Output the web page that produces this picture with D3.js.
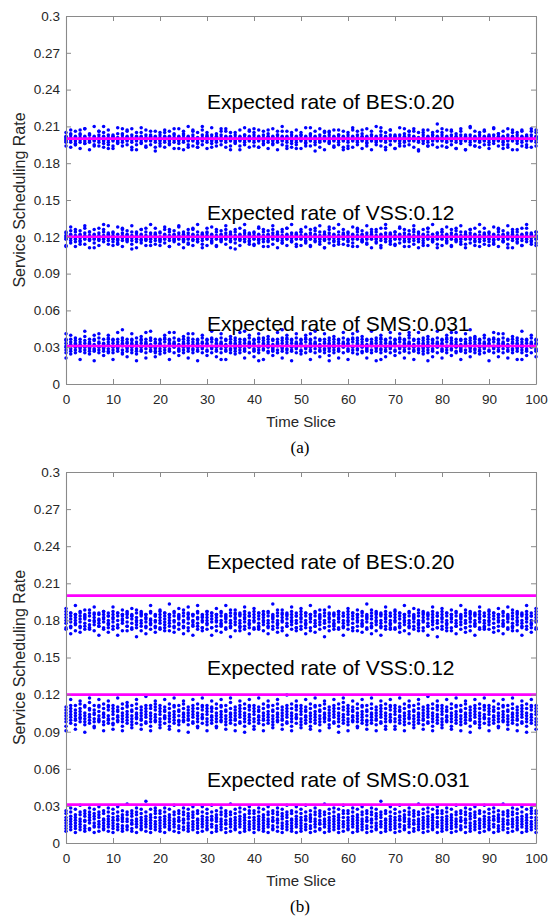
<!DOCTYPE html>
<html>
<head>
<meta charset="utf-8">
<script src="https://cdn.jsdelivr.net/npm/d3@7/dist/d3.min.js"></script>
<style>
  body { margin: 0; background: #fff; }
  svg { display: block; }
</style>
</head>
<body>
<svg id="chart" width="554" height="923"></svg>
<script>
// ---- data ------------------------------------------------------------
const timeSlices = d3.range(0, 101);
const xTicks = [0, 10, 20, 30, 40, 50, 60, 70, 80, 90, 100];
const xTickLabels = ["0", "10", "20", "30", "40", "50", "60", "70", "80", "90", "100"];
const yTicks = [0, 0.03, 0.06, 0.09, 0.12, 0.15, 0.18, 0.21, 0.24, 0.27, 0.3];
const yTickLabels = ["0", "0.03", "0.06", "0.09", "0.12", "0.15", "0.18", "0.21", "0.24", "0.27", "0.3"];

const services = ["BES", "VSS", "SMS"];
const expectedRates = [0.20, 0.12, 0.031];
const expectedLabels = ["Expected rate of BES:0.20", "Expected rate of VSS:0.12", "Expected rate of SMS:0.031"];

// Measured rates: one space-separated group per time slice, one letter per run.
// Letter 'm' is the series centre; each letter away from 'm' is one step.
const centresA = [0.200, 0.120, 0.031];
const stepsA = [0.001, 0.001, 0.0011];
const centresB = [0.180, 0.104, 0.0195];
const stepsB = [0.0012, 0.0012, 0.0011];

const besA = [
  "mkoljngr lnpjmqft kmoinhhs jmlpnteq mkniouiu lpmjkqdp gmnlokhw nlmpjsgs kmoliwfr ljnmpeht",
  "nmkolgep mlqjnkiv jnmlpugq kolmnths lmjnpdfu mnkolhdr oljmnvir kmpnlfgt lnmkoshp jlomncfs",
  "mnlkpigr lomjnrft knmliohs mjlnpueq nlkmoeiu lmnjqsdp kolmnfhw mnkpltgs jlimnffr lknmpwht",
  "nmjlorep lpmknfiv kmonljgq mlnkpuhs lmjonsfu knlmogdr mkpjnlir lonmkdgt jmlnpvhp nkmlotfs",
  "mlnjpugr kmolnfft lnkmpihs mjnloteq lmkonhiu nlmjpsdp kmnloshw jlnmoegs mknlpifr lnmjoeht",
  "nkmlprep ljmnogiv kmnlpvgq mljnochs lmknpjfu nlmkosdr kmjnpsir lmnkofgt mlnjpthp knmlodfs",
  "lmjnpegr mknlovft nlmkpjhs kmlnoteq lmjnogiu nkmlpsdp mlknojhw kmnlpvgs lmnjodfr nlkmptht",
  "mknloeep lnmkpgiv kmjnougq mlnkpshs lmknosfu nkmljcdr kmlnptir lmjnoggt mnklprhp kmlnoyfs",
  "lnmkpugr mkjnofft lmnkpths nlmjoeeq kmnlpsiu mlknoddp lmjnpvhw nkmloggs kmlnpjfr lmknosht",
  "mnjlohep lkmnpuiv mlnkoqgq kmjnoehs lnmkphfu nlmkotdr kmlnpdir lmjnosgt mknlofhp lnkmpufs",
  "mlnjotgr"
];
const vssA = [
  "lnkmpefq mjolnrhu knmlqies ljnmogir mlkpntgv nmjlqkdq kolnmdhs lmpjnkft mnlkqsiw jmnlovgp",
  "nlmkpifq kmojlghu lnmjptes mknlojir lnjmqcgv kmlnpidq nmkojshs lmjnqkft kmnlpfiw nljmotgp",
  "mkljpifq lnmkoshu jmnlqees kmolnjir nlmkpugv lkjnoidq mnlkpghs kmjnosft lnmkqiiw mjlnodgp",
  "knmlptfq lmjnoihu nkmlqfes mlknojir kmnlpsgv lnjmoidq mklnqchs nmjlokft lkmnpriw mljnoigp",
  "nmklpgfq kljnothu mnlkqies lmjnoeir knmlpsgv mlknojdq lnjmqhhs kmnlotft mljnpiiw nkmloegp",
  "lmnkqsfq mjlnoihu knmlpfes lmjnotir nmklqigv kljnoddq mnlkpuhs lmjnoift knmlqgiw mlknosgp",
  "nmjlpifq lkmnoehu mnlkqtes kmjnoiir lnmkphgv mlknosdq kmnlqihs ljmnodft nkmlptiw mljnoigp",
  "knmlqgfq mlknothu lnjmpies kmnloeir mljnqsgv nkmlpidq lmjnofhs kmnlqtft mlkjoiiw lnmkpdgp",
  "mknlqsfq ljmnoihu nmklpfes kmjnotir lnmkqigv mlknogdq kmnlpshs ljmnoift nkmlqeiw mljnotgp",
  "lmknpifq kmnjoghu mlnkqtes nljmoiir kmnlpdgv lmjnosdq nkmlqihs mljnofft kmnlptiw lmjnoigp",
  "nmklqhfq"
];
const smsA = [
  "hjlmoqrdv iknmprgu jhlnoqsm kilmnprc hjmloqtx gilnoprk ijkmnqrbu hjlmopsv kimlnorf hiknprsu",
  "jhlmoqrc iklmnprw hjmnoqsgy kilmopre hjlnoqrv gikmnpsb ijlmoqrt hkmnoprdw jilmnqsx hiklopre",
  "ikmnoqrg hjlmprsu jiknoqrcw hlmnopsw kijmnqrf hjlnoprt ikmloqsdv hjkmnprv jilnoqrb hklmopsu",
  "ijmnoqrf hklmprsx jilnoqre hkmnopsvc ijlmnqrc hjkmoprt iklnoqsg hjlmnprw jikmoqrdx hlmnopsu",
  "ikjnoqre hjlmprsvb jkmnoqsc hilmnprt ikjlnqrf hjmnoprw iklmoqsdy hjknprsu jilmoqrb hklnopsv",
  "ijmnoqrg hklmprsu jilnoqrcv hkmnopsx ijlmnqre hjkmoprv iklnoqsfb hjlmnprt jikmoqrd hlmnopsw",
  "ikjnoqrc hjlmprsv jkmnoqsgx hilmnprt ikjlnqrd hjmnoprx iklmoqsb hjknprsuc jilmoqre hklnopsw",
  "ijmnoqrf hklmprsv jilnoqrd hkmnopsuw ijlmnqrc hjkmoprw iklnoqsg hjlmnprtb jikmoqre hlmnopsx",
  "ikjnoqrd hjlmprsu jkmnoqsfw hilmnprw ikjlnqrc hjmnoprv iklmoqsey hjknprst jilmoqrg hklnopsu",
  "ijmnoqrb hklmprsw jilnoqrev hkmnopsv ijlmnqrd hjkmoprt iklnoqsc hjlmnprxc jikmoqrf hlmnopsu",
  "ikjnoqre"
];
const besB = [
  "hkmoqugs ilnprdhr jkmoqwfq hlnpreis iknoqtgp hjmprght jlmoqvfr ikmnrciq hlnoqsgs jkmprehp",
  "ilnoqvgs hjmprchr kmnpqtfq iloqrfis hknpqugp jlmorbht ikmpqsfr hlnoqdiq jkmnrwgs ilmpqehp",
  "hkmoqtgs jlnprfhr ikmoqxfq hlmpreis jknoqugp ilmprdht hknoqvfr jlmpqciq iknorwgs hlmoqfhp",
  "jkmoqsgs hlnprchr ilmoqufq jkmpreis hlnoqwgp ikmprbht jlnoqtfr hkmprfiq ilnoqvgs jkmprdhp",
  "hlmoqugs iknprghr jlmoqsfq hkmprdis ilnoqxgp jkmpreht hlmoqtfr iknprciq jlmoqvgs hkmprfhp",
  "ilnoqugs jkmprdhr hlnoqwfq ikmpreis jlnoqtgp hkmprbht ilnoqvfr jkmprgiq hlnoqsgs ikmprchp",
  "jlmoqugs hknprfhr ilmoqtfq jkmpreis hlnoqxgp iknprdht jlmoqsfr hkmprciq ilnoqvgs jkmprghp",
  "hlmoqtgs iknprehr jlmoqwfq hkmprdis ilnoqugp jkmprfht hlmoqsfr iknprciq jlmoqvgs hkmprbhp",
  "ilnoqugs jkmprfhr hlnoqtfq ikmprdis jlnoqwgp hkmpreht ilnoqsfr jkmprciq hlnoqvgs ikmprghp",
  "jlmoqtgs hknprehr ilmoqufq jkmprdis hlnoqvgp iknprfht jlmoqsfr hkmprciq ilnoqwgs jkmprehp",
  "hlmoqugs"
];
const vssB = [
  "ehjlnprb gikmoqsw fijlnpsc hjkmoqtv fhjlnrsa gikmpqux ehjmnpsd hijlorsw fhkmnqtb gijlprsv",
  "fgjmoqsc hikloprx ehjlnqtb gikmorsu fhjlopsd gjkmnqtw fijlnprc ghkmoqsy ehjlnqsb hikmprtv",
  "fhjmoqsd gjkloprw ehjlnqtc gikmorsx fhilopsb hikmnqtv fijlnpra ghkmoqsw ehjlnqtd gjkmprsx",
  "fhjmoqsb gikloqrv ehjlnqtd hikmorsw fhjlopsc gikmnqux fijlnprb ghkmoqsv ehjlnqta gikmprsw",
  "ehjmoqsc gikloprx fijlnqtb gikmorsv fhjlopsd hikmnqtw fijlnprc ghkmoqsz ehjlnqtb gjkmprsv",
  "fhjmoqsd gikloprw ehjlnqtc gikmorsx fhjlopsb hjkmnqtv fijlnprd ghkmoqsw ehjlnqta gikmprux",
  "fhjmoqsb hikloprv ehjlnqtd gikmorsw fhilopsc gikmnqtx fijlnprb ghkmoqsv ehjlnqtc hikmprsw",
  "ehjmoqsc gikloprx fhjlnqtb gjkmorsv fhjlopsd gikmnqtw fijlnprc ghkmoqsy ehjlnqtb gikmprsv",
  "fhjmoqsd hikloprw ehjlnqtc gikmorsx fhjlopsb gikmnqtv eijlnpra ghkmoqsw fhjlnqtd gjkmprsx",
  "fhjmoqsb gikloprv ehjlnqtd hikmorsw fhjlopsc gikmnqtx fijlnprb ghkmoqsv ehjlnqta gikmprsw",
  "fhjmoqsc"
];
const smsB = [
  "dfhjlnqs egikmoru cfhjlnpt egikmprw dfhkloqs efjlnpru cghjmoqt dgiknprv efhjlmqs dgikmoru",
  "cfhjlnqt egilmorv dfhkmnps eghkmprx dfijloqs cgikmpru efhjlnqt dgikmorz cfhjlnpt egiknqsu",
  "dfhjlnqs cgikmoru efhjlnpt dgikmprw cfhklnqs egjlmpru dfhjmoqt egiknprv cfhjlmqs dgikmorv",
  "efhjlnqt cgilmorw dfhkmnps egikmpru cfijloqs dgikmprx efhjlnqt cgikmoru dfhjlnpt egiknqsv",
  "cfhjlnqs egikmoru dfhjlnpt cgikmprv efhklnqs dgjlmpru cfhjmoqt egiknprw dfhjlmqs cgikmorv",
  "dfhjlnqt egilmorw cfhkmnps dgikmpru efijloqs cgikmprx dfhjlnqt egikmoru cfhjlnpt dgiknqsw",
  "efhjlnqs cgikmoru dfhjlnpt egikmprv cfhklnqs dgjlmpru efhjmoqt cgiknprz dfhjlmqs egikmorv",
  "cfhjlnqt dgilmorw efhkmnps cgikmpru dfijloqs egikmprx cfhjlnqt dgikmoru efhjlnpt cgiknqsv",
  "dfhjlnqs egikmoru cfhjlnpt dgikmprw efhklnqs cgjlmpru dfhjmoqt egiknprv cfhjlmqs dgikmorw",
  "efhjlnqt cgilmoru dfhkmnps egikmprx cfijloqs dgikmpru efhjlnqt cgikmorv dfhjlnpt egiknqsu",
  "cfhjlnqs"
];

// ---- helpers ---------------------------------------------------------
function decode(chunks, centre, step) {
  const groups = chunks.join(" ").trim().split(/\s+/);
  const pts = [];
  groups.forEach((g, i) => {
    for (const ch of g) {
      pts.push({ t: timeSlices[i], v: centre + (ch.charCodeAt(0) - 109) * step });
    }
  });
  return pts;
}

// ---- layout ----------------------------------------------------------
const svg = d3.select("#chart");
svg.append("rect").attr("width", 554).attr("height", 923).attr("fill", "#fff");

const plotLeft = 66, plotRight = 536;
const panels = [
  { top: 16, bottom: 384, caption: "(a)", captionY: 453, xLabelY: 427,
    labelY: [0.2242, 0.1337, 0.0432],
    series: [besA, vssA, smsA].map((s, i) => decode(s, centresA[i], stepsA[i])) },
  { top: 472, bottom: 843, caption: "(b)", captionY: 912, xLabelY: 886,
    labelY: [0.2216, 0.1358, 0.0453],
    series: [besB, vssB, smsB].map((s, i) => decode(s, centresB[i], stepsB[i])) }
];

const axisColor = "#8a8a8a";
const textColor = "#262626";
const font = "'Liberation Sans', Arial, Helvetica, sans-serif";

panels.forEach(p => {
  const x = d3.scaleLinear().domain([0, 100]).range([plotLeft, plotRight]);
  const y = d3.scaleLinear().domain([0, 0.3]).range([p.bottom, p.top]);
  const g = svg.append("g");

  // measured rates
  p.series.forEach(pts => {
    g.append("g").selectAll("circle").data(pts).join("circle")
      .attr("cx", d => x(d.t)).attr("cy", d => y(d.v))
      .attr("r", 1.75).attr("fill", "#0000ff");
  });

  // expected rates
  g.append("g").selectAll("line").data(expectedRates).join("line")
    .attr("x1", x(0)).attr("x2", x(100))
    .attr("y1", d => y(d)).attr("y2", d => y(d))
    .attr("stroke", "#ff00ff").attr("stroke-width", 2.6);

  // axes (box with inward ticks)
  const styleAxis = sel => {
    sel.selectAll(".domain").attr("stroke", axisColor).attr("stroke-width", 1.1);
    sel.selectAll(".tick line").attr("stroke", axisColor).attr("stroke-width", 1);
    sel.selectAll(".tick text").attr("fill", textColor)
      .style("font-family", font).style("font-size", "13.5px");
  };
  g.append("g").attr("transform", `translate(0,${p.bottom})`)
    .call(d3.axisBottom(x).tickValues(xTicks).tickFormat((d, i) => xTickLabels[i])
      .tickSizeInner(-5).tickSizeOuter(0).tickPadding(10))
    .call(styleAxis);
  g.append("g").attr("transform", `translate(0,${p.top})`)
    .call(d3.axisTop(x).tickValues(xTicks).tickFormat("")
      .tickSizeInner(-5).tickSizeOuter(0))
    .call(styleAxis);
  g.append("g").attr("transform", `translate(${plotLeft},0)`)
    .call(d3.axisLeft(y).tickValues(yTicks).tickFormat((d, i) => yTickLabels[i])
      .tickSizeInner(-5).tickSizeOuter(0).tickPadding(6))
    .call(styleAxis);
  g.append("g").attr("transform", `translate(${plotRight},0)`)
    .call(d3.axisRight(y).tickValues(yTicks).tickFormat("")
      .tickSizeInner(-5).tickSizeOuter(0))
    .call(styleAxis);

  // annotations
  g.append("g").selectAll("text").data(expectedLabels).join("text")
    .attr("x", x(30)).attr("y", (d, i) => y(p.labelY[i]))
    .attr("fill", "#000")
    .style("font-family", font).style("font-size", "21px")
    .text(d => d);

  // axis titles
  g.append("text")
    .attr("x", (plotLeft + plotRight) / 2).attr("y", p.xLabelY)
    .attr("text-anchor", "middle").attr("fill", textColor)
    .style("font-family", font).style("font-size", "15px")
    .text("Time Slice");
  g.append("text")
    .attr("transform", `translate(25,${(p.top + p.bottom) / 2}) rotate(-90)`)
    .attr("text-anchor", "middle").attr("fill", textColor)
    .style("font-family", font).style("font-size", "16px")
    .text("Service Scheduling Rate");

  // panel caption
  svg.append("text")
    .attr("x", 300).attr("y", p.captionY)
    .attr("text-anchor", "middle").attr("fill", "#000")
    .style("font-family", "'Liberation Serif', 'Times New Roman', serif").style("font-size", "17px")
    .text(p.caption);
});
</script>
</body>
</html>
